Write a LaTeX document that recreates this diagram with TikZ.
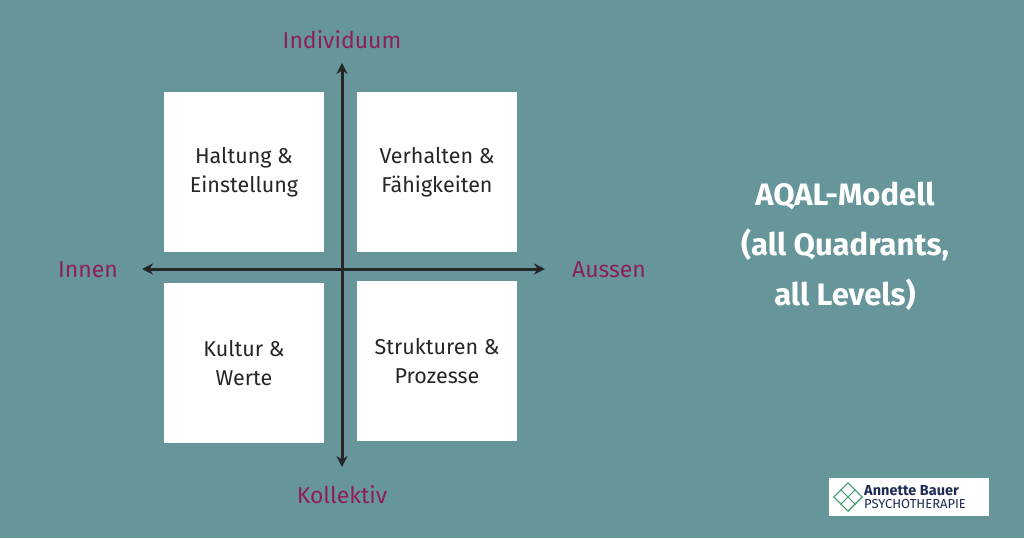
\documentclass[tikz,border=0pt]{standalone}
\usepackage{fontspec}
\setmainfont{Fira Sans}
\usetikzlibrary{arrows.meta}
\definecolor{bg}{HTML}{66969A}
\definecolor{mag}{HTML}{8E1F5E}
\definecolor{logoblue}{HTML}{1F2A55}
\definecolor{logogreen}{HTML}{3E9A6A}
\tikzset{
  quad/.style={fill=white,minimum width=160pt,minimum height=160pt,inner sep=0pt,align=center,font=\fontsize{21.5}{29}\selectfont,text=black!85},
  axlabel/.style={text=mag,font=\fontsize{23}{25}\selectfont},
  axis/.style={line width=3pt,black!85,-{Stealth[length=11pt,width=11pt]}}
}
\begin{document}
\begin{tikzpicture}[x=1pt,y=-1pt]
\fill[bg] (0,0) rectangle (1024,538);
\useasboundingbox (0,0) rectangle (1024,538);
\node[quad] (tl) at (244,172) {Haltung \&\\Einstellung};
\node[quad] (tr) at (437,172) {Verhalten \&\\Fähigkeiten};
\node[quad] (bl) at (244,363) {Kultur \&\\Werte};
\node[quad] (br) at (437,361) {Strukturen \&\\Prozesse};
\coordinate (c) at (342,269);
\coordinate (top) at (342,63);
\coordinate (bot) at (342,467);
\coordinate (lft) at (142,269);
\coordinate (rgt) at (545,269);
\draw[axis] (c) -- (top);
\draw[axis] (c) -- (bot);
\draw[axis] (c) -- (lft);
\draw[axis] (c) -- (rgt);
\node[axlabel] (ind) at (342,40) {Individuum};
\node[axlabel] (kol) at (342,495) {Kollektiv};
\node[axlabel] (inn) at (88,270) {Innen};
\node[axlabel] (aus) at (609,270) {Aussen};
\node[text=white,font=\bfseries\fontsize{31}{50}\selectfont,align=center] (title) at (845,246) {AQAL-Modell\\(all Quadrants,\\all Levels)};
\node[fill=white,minimum width=160pt,minimum height=38pt,inner sep=0pt] (logo) at (909,497) {};
\node[draw=logogreen,line width=1.2pt,rotate=45,minimum size=20pt,inner sep=0pt] (knot) at (848,497) {};
\draw[logogreen,line width=0.8pt] (knot.north) -- (knot.south) (knot.east) -- (knot.west);
\node[anchor=south west,inner sep=0pt,text=logoblue,font=\bfseries\fontsize{14.5}{15}\selectfont] (lt) at (864,496) {Annette Bauer};
\node[anchor=north west,inner sep=0pt,text=logoblue,font=\fontsize{13}{14}\selectfont] (lt2) at (864,499) {PSYCHOTHERAPIE};
\end{tikzpicture}
\end{document}
